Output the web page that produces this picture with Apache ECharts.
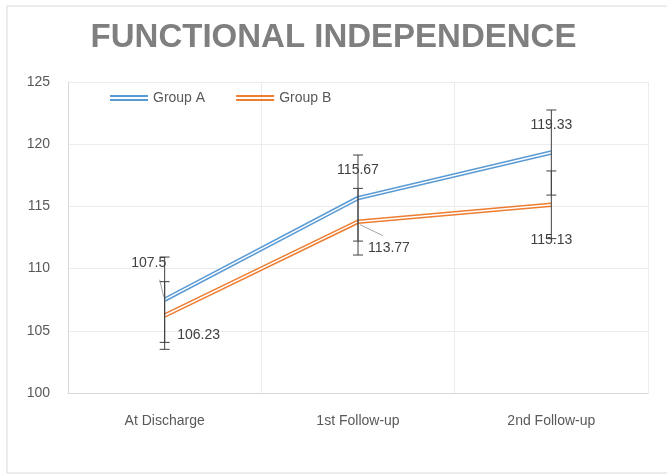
<!DOCTYPE html>
<html>
<head>
<meta charset="utf-8">
<script src="https://cdn.jsdelivr.net/npm/echarts@6/dist/echarts.min.js"></script>
<style>
html, body { margin: 0; padding: 0; background: #fff; }
#functional-chart { width: 667px; height: 474px; }
</style>
</head>
<body>
<div id="functional-chart"></div>
<script>
const categories = ['At Discharge', '1st Follow-up', '2nd Follow-up']
const groupA = [107.5, 115.67, 119.33]
const groupB = [106.23, 113.77, 115.13]
const groupAError = [3.43, 3.46, 3.42]
const groupBError = [2.72, 2.68, 2.72]
const yMin = 100
const yMax = 125
const yStep = 5

// label offsets (px) from the point, Excel-like placement
const offsetsA = [[-16, -37], [0, -28], [0, -27]]
const offsetsB = [[34, 20], [31, 26], [0, 35]]
// leader lines (px, from point): [startX, startY, endX, endY] or null
const leadersA = [[-1, -3, -5, -20], null, null]
const leadersB = [null, [2, 3, 25, 14], null]

const blue = '#5B9BD5'
const orange = '#ED7D31'
const textGray = '#595959'
const font = 'Liberation Sans'

function errorBarData(values, errors) {
  return values.map(function (v, i) { return [i, v, errors[i]] })
}

function makeErrorBarRenderer(leaders) {
  return function (params, api) {
    const x = api.value(0)
    const v = api.value(1)
    const e = api.value(2)
    const pt = api.coord([x, v])
    const lo = api.coord([x, v - e])
    const hi = api.coord([x, v + e])
    const half = 5
    const style = { stroke: '#404040', lineWidth: 1 }
    const children = [
      { type: 'line', shape: { x1: lo[0], y1: lo[1], x2: hi[0], y2: hi[1] }, style: style },
      { type: 'line', shape: { x1: lo[0] - half, y1: lo[1], x2: lo[0] + half, y2: lo[1] }, style: style },
      { type: 'line', shape: { x1: hi[0] - half, y1: hi[1], x2: hi[0] + half, y2: hi[1] }, style: style }
    ]
    const l = leaders[params.dataIndex]
    if (l) {
      children.push({
        type: 'line',
        shape: { x1: pt[0] + l[0], y1: pt[1] + l[1], x2: pt[0] + l[2], y2: pt[1] + l[3] },
        style: { stroke: '#a6a6a6', lineWidth: 1 }
      })
    }
    return { type: 'group', children: children }
  }
}

function doubleLine(name, values, color, offsets) {
  return [
    {
      name: name,
      type: 'line',
      data: values,
      color: color,
      symbol: 'circle',
      symbolSize: 0,
      lineStyle: { width: 4.5, color: color },
      z: 3,
      label: {
        show: true,
        position: 'inside',
        color: '#404040',
        fontFamily: font,
        fontSize: 14
      },
      labelLayout: function (p) {
        const o = offsets[p.dataIndex]
        return { dx: o[0], dy: o[1] }
      }
    },
    {
      name: name + ' inner',
      type: 'line',
      data: values,
      symbol: 'none',
      lineStyle: { width: 1.4, color: '#ffffff' },
      z: 4,
      silent: true
    }
  ]
}

const myChart = echarts.init(document.getElementById('functional-chart'))
const option = {
  animation: false,
  title: {
    text: 'FUNCTIONAL INDEPENDENCE',
    left: 'center',
    top: 16,
    textStyle: {
      color: '#7f7f7f',
      fontFamily: font,
      fontWeight: 'bold',
      fontSize: 33
    }
  },
  graphic: [
    {
      type: 'rect',
      shape: { x: 7, y: 6, width: 670, height: 467 },
      style: { fill: 'none', stroke: '#d9d9d9', lineWidth: 1 },
      silent: true
    }
  ],
  legend: {
    data: ['Group A', 'Group B'],
    left: 105,
    top: 86,
    itemWidth: 38,
    itemHeight: 6,
    itemGap: 31,
    icon: 'path://M0,0H38V2H0ZM0,4H38V6H0Z',
    textStyle: { color: textGray, fontFamily: font, fontSize: 14 }
  },
  grid: { left: 68, right: 19, top: 82, bottom: 81 },
  xAxis: {
    type: 'category',
    data: categories,
    boundaryGap: true,
    axisLine: { lineStyle: { color: '#d9d9d9' } },
    axisTick: { show: false },
    axisLabel: { color: textGray, fontFamily: font, fontSize: 14, margin: 21 },
    splitLine: { show: true, lineStyle: { color: '#ececec' } }
  },
  yAxis: {
    type: 'value',
    min: yMin,
    max: yMax,
    interval: yStep,
    axisLine: { show: true, lineStyle: { color: '#d9d9d9' } },
    axisTick: { show: false },
    axisLabel: { color: textGray, fontFamily: font, fontSize: 14, margin: 18 },
    splitLine: { lineStyle: { color: '#ececec' } }
  },
  series: [].concat(
    doubleLine('Group A', groupA, blue, offsetsA),
    doubleLine('Group B', groupB, orange, offsetsB),
    [
      { type: 'custom', data: errorBarData(groupA, groupAError), renderItem: makeErrorBarRenderer(leadersA), z: 5, silent: true },
      { type: 'custom', data: errorBarData(groupB, groupBError), renderItem: makeErrorBarRenderer(leadersB), z: 5, silent: true }
    ]
  )
}
myChart.setOption(option)
window.addEventListener('resize', function () {
  myChart.resize()
})
</script>
</body>
</html>
